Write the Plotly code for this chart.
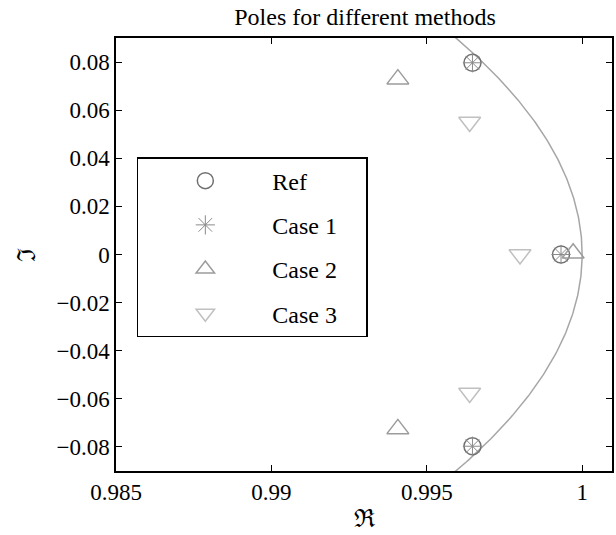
import numpy as np
import plotly.graph_objects as go

# Pole data (real, imaginary)
ref_re = [0.99647, 0.99932, 0.99647]
ref_im = [0.0797, 0.0, -0.0797]
case1_re = [0.99647, 0.99932, 0.99647]
case1_im = [0.0797, 0.0, -0.0797]
case2_re = [0.99407, 0.99971, 0.99407]
case2_im = [0.0729, 0.0005, -0.0725]
case3_re = [0.99638, 0.99800, 0.99638]
case3_im = [0.0551, 0.0, -0.0576]

series_names = ["Ref", "Case 1", "Case 2", "Case 3"]

x_ticks = [0.985, 0.99, 0.995, 1.0]
x_ticktext = ["0.985", "0.99", "0.995", "1"]
y_ticks = [0.08, 0.06, 0.04, 0.02, 0.0, -0.02, -0.04, -0.06, -0.08]
y_ticktext = ["0.08", "0.06", "0.04", "0.02", "0", "\u22120.02", "\u22120.04", "\u22120.06", "\u22120.08"]

# unit circle reference arc
theta = np.linspace(-0.12, 0.12, 300)
arc_x = np.cos(theta)
arc_y = np.sin(theta)

FONT = "Liberation Serif"
PAD = "\u00a0" * 4

fig = go.Figure()
fig.add_trace(go.Scatter(x=arc_x, y=arc_y, mode="lines",
                         line=dict(color="#a6a6a6", width=1.5),
                         showlegend=False, hoverinfo="skip"))
fig.add_trace(go.Scatter(x=ref_re, y=ref_im, mode="markers", name=series_names[0] + PAD,
                         legendgroup="a",
                         marker=dict(symbol="circle-open", size=17, color="#707070",
                                     line=dict(width=1.5, color="#707070"))))
fig.add_trace(go.Scatter(x=case1_re, y=case1_im, mode="markers", name=series_names[1] + PAD,
                         legendgroup="b",
                         marker=dict(symbol="asterisk-open", size=16, color="#8a8a8a",
                                     line=dict(width=1, color="#8a8a8a"))))
fig.add_trace(go.Scatter(x=case2_re, y=case2_im, mode="markers", name=series_names[2] + PAD,
                         legendgroup="c",
                         marker=dict(symbol="triangle-up-open", size=19, color="#9c9c9c",
                                     line=dict(width=1.5, color="#9c9c9c"))))
fig.add_trace(go.Scatter(x=case3_re, y=case3_im, mode="markers", name=series_names[3] + PAD,
                         legendgroup="d",
                         marker=dict(symbol="triangle-down-open", size=19, color="#c0c0c0",
                                     line=dict(width=1.5, color="#c0c0c0"))))

axis_common = dict(showgrid=False, zeroline=False, showline=True, linecolor="black",
                   linewidth=1.5, mirror="ticks", ticks="inside", ticklen=6,
                   tickcolor="black", tickwidth=1,
                   tickfont=dict(family=FONT, size=23, color="black"))

fig.update_layout(
    width=616, height=535,
    margin=dict(l=116, r=2, t=38, b=64),
    font=dict(family=FONT, color="black"),
    paper_bgcolor="white", plot_bgcolor="white",
    title=dict(text="Poles for different methods", x=0.5925, xanchor="center",
               y=0.985, yanchor="top",
               font=dict(family=FONT, size=24, color="black")),
    xaxis=dict(range=[0.985, 1.00096], tickvals=x_ticks, ticktext=x_ticktext,
               title=dict(text="\u211c", font=dict(family=FONT, size=25, color="black"),
                          standoff=5),
               **axis_common),
    yaxis=dict(range=[-0.09, 0.09], tickvals=y_ticks, ticktext=y_ticktext,
               title=dict(text="\u2111", font=dict(family=FONT, size=25, color="black"),
                          standoff=14),
               **axis_common),
    legend=dict(x=0.042, y=0.725, xanchor="left", yanchor="top",
                bgcolor="white", bordercolor="black", borderwidth=1.5,
                font=dict(family=FONT, size=24, color="black"),
                traceorder="grouped", tracegroupgap=10, itemwidth=124),
    showlegend=True,
)

fig.write_html("out.html")
